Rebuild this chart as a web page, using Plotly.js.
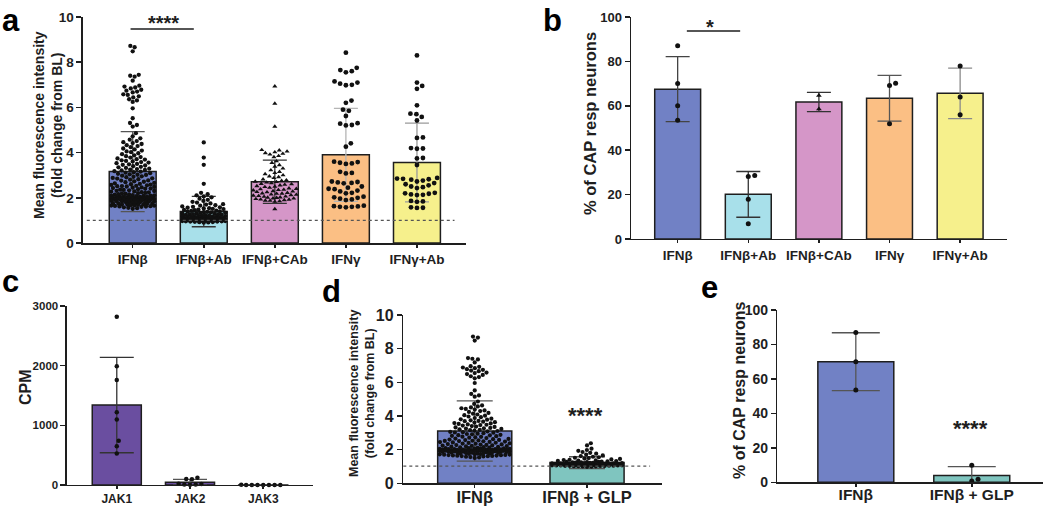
<!DOCTYPE html>
<html><head><meta charset="utf-8">
<script src="https://cdn.plot.ly/plotly-3.0.1.min.js"></script>
<style>html,body{margin:0;padding:0;background:#fff}#chart{width:1050px;height:507px}</style>
</head><body><div id="chart"></div>
<script>
// ================= DATA =================
// Panel a / b categories
const catsA = ['IFNβ', 'IFNβ+Ab', 'IFNβ+CAb', 'IFNγ', 'IFNγ+Ab'];
const meanA = [3.16, 1.39, 2.71, 3.90, 3.56];
const sdA   = [1.77, 0.67, 0.96, 2.06, 1.74];

const ptsIFNb = [8.72, 8.66, 8.48, 7.44, 7.40, 7.36, 7.18, 6.96, 6.92, 6.88, 6.84, 6.78, 6.74, 6.70, 6.66, 6.58, 6.55, 6.49, 6.44, 6.36, 6.31, 6.24, 5.96, 5.52, 5.31, 5.22, 5.15,
  4.86, 4.72, 4.63, 4.57, 4.51, 4.46, 4.42, 4.38, 4.33, 4.29, 4.24, 4.18, 4.14, 4.09, 4.05, 4.02,
  3.97, 3.93, 3.88, 3.84, 3.80, 3.78, 3.74, 3.71, 3.69, 3.66, 3.63, 3.61, 3.58, 3.56, 3.53, 3.50, 3.48, 3.46, 3.43, 3.40, 3.37, 3.35, 3.32,
  3.29, 3.27, 3.25, 3.23, 3.21, 3.18, 3.16, 3.13, 3.11, 3.09, 3.06, 3.04, 3.02, 3.01,
  2.98, 2.95, 2.93, 2.91, 2.88, 2.86, 2.85, 2.82, 2.80, 2.77, 2.76, 2.73, 2.71, 2.69, 2.66, 2.64, 2.62, 2.60, 2.58, 2.57, 2.55, 2.53, 2.52, 2.51, 2.50,
  2.48, 2.46, 2.45, 2.43, 2.41, 2.40, 2.38, 2.36, 2.35, 2.33, 2.31, 2.30, 2.28, 2.27, 2.25, 2.24, 2.22, 2.21, 2.19, 2.18, 2.16, 2.15, 2.14, 2.12, 2.11, 2.10, 2.09, 2.08, 2.07, 2.06, 2.05, 2.05, 2.04, 2.03, 2.03, 2.02, 2.01, 2.01, 2.00, 2.00,
  1.99, 1.99, 1.98, 1.98, 1.97, 1.97, 1.96, 1.96, 1.95, 1.95, 1.94, 1.94, 1.93, 1.93, 1.92, 1.92, 1.91, 1.90, 1.90, 1.89, 1.88, 1.88, 1.87, 1.86, 1.85, 1.85, 1.84, 1.83, 1.82, 1.81, 1.80, 1.79, 1.78, 1.77, 1.76, 1.75, 1.74, 1.73, 1.72, 1.71, 1.70, 1.69, 1.68, 1.67, 1.66, 1.65, 1.64, 1.63, 1.62, 1.61, 1.60, 1.58, 1.56, 1.54, 1.51];

const ptsIFNbAb = [4.45, 3.78, 3.46, 2.62, 2.22, 2.16, 2.11, 2.06, 2.02,
  1.96, 1.91, 1.86, 1.82, 1.79, 1.75, 1.72, 1.70, 1.67, 1.65, 1.62, 1.60, 1.58, 1.56, 1.54, 1.53, 1.51, 1.50,
  1.48, 1.46, 1.45, 1.43, 1.42, 1.40, 1.39, 1.38, 1.36, 1.35, 1.34, 1.33, 1.31, 1.30, 1.29, 1.28, 1.27, 1.26, 1.25, 1.24, 1.23, 1.22, 1.21, 1.20,
  1.19, 1.18, 1.17, 1.16, 1.16, 1.15, 1.14, 1.14, 1.13, 1.12, 1.12, 1.11, 1.11, 1.10, 1.10, 1.09, 1.09, 1.08, 1.08, 1.07, 1.07, 1.07, 1.06, 1.06, 1.06, 1.05, 1.05, 1.05, 1.04, 1.04, 1.04, 1.03, 1.03, 1.03, 1.02, 1.02, 1.02, 1.01, 1.01, 1.00,
  0.99, 0.99, 0.98, 0.98, 0.97, 0.97, 0.96, 0.96, 0.95, 0.95, 0.94, 0.93, 0.92, 0.91, 0.90];

const ptsIFNbCAb = [6.93, 6.17, 5.15, 4.12, 4.10, 4.05, 4.02, 3.98, 3.95, 3.92, 3.85, 3.80, 3.62, 3.55, 3.45, 3.38, 3.30, 3.22, 3.15, 3.10, 3.05, 3.00, 2.95, 2.92, 2.88,
  2.82, 2.78, 2.75, 2.72, 2.70, 2.68, 2.65, 2.62, 2.60, 2.58, 2.55, 2.52, 2.50, 2.48, 2.45, 2.42, 2.40, 2.38, 2.36, 2.35, 2.33, 2.30, 2.28, 2.26, 2.25, 2.22, 2.20, 2.19, 2.18, 2.15, 2.14, 2.12, 2.10, 2.08, 2.06, 2.05, 2.02, 2.01, 2.00, 1.98, 1.97, 1.95, 1.93, 1.92, 1.90, 1.88, 1.87, 1.85, 1.83, 1.50];

const ptsIFNg = [8.42, 7.75, 7.65, 7.60, 7.55, 7.15, 7.10, 7.05, 7.00, 6.98, 6.30, 6.20, 5.90, 5.85, 5.62, 5.30, 5.28, 5.22, 5.20, 4.41, 4.26,
  3.60, 3.58, 3.55, 3.52, 3.50, 3.15, 3.10, 3.08, 2.72, 2.70, 2.68, 2.66, 2.64, 2.50, 2.45, 2.40, 2.38, 2.32, 2.28, 2.22, 2.20,
  2.05, 2.02, 2.00, 1.96, 1.93, 1.90, 1.65, 1.63, 1.62, 1.60, 1.60, 1.58];

const ptsIFNgAb = [8.30, 7.10, 6.95, 6.82, 6.09, 5.72, 5.70, 5.58, 5.42, 4.67, 4.65, 4.20, 4.18, 4.17, 3.76, 3.74, 3.45,
  2.88, 2.85, 2.84, 2.82, 2.80, 2.76, 2.72, 2.65, 2.60, 2.55, 2.50, 2.47, 2.43, 2.22, 2.20, 2.18, 2.15, 2.13, 2.12,
  1.86, 1.84, 1.82, 1.58, 1.56, 1.55];

// Panel b
const meanB = [67.5, 20.1, 61.7, 63.4, 65.6];
const sdB   = [14.6, 10.3, 4.3, 10.3, 11.4];
const ptsB  = [[87.0, 70.0, 60.0, 53.5], [28.6, 28.2, 17.9, 6.9], [64.6, 58.6], [70.1, 69.1, 51.9], [77.9, 64.0, 56.0]];

// Panel c
const catsC = ['JAK1', 'JAK2', 'JAK3'];
const meanC = [1341, 45, 1.5];
const sdC   = [800, 48, 1];
const ptsC  = [[2820, 1990, 1760, 1220, 1100, 740, 650, 530], [120, 100, 95, 20, 15, 10, 8, 5], [3, 2, 2, 1, 1, 1, 0.5, 0]];

// Panel d
const catsD = ['IFNβ', 'IFNβ + GLP'];
const meanD = [3.11, 1.23];
const sdD   = [1.79, 0.35];
const ptsGLP = [2.38, 2.25, 2.06, 1.98, 1.93, 1.86, 1.81, 1.76, 1.71, 1.66, 1.62, 1.58, 1.55, 1.52, 1.50, 1.47, 1.45, 1.42, 1.40, 1.38, 1.36, 1.35, 1.33, 1.32, 1.30,
  1.29, 1.28, 1.27, 1.26, 1.25, 1.24, 1.23, 1.22, 1.21, 1.20, 1.20, 1.19, 1.18, 1.18, 1.17, 1.16, 1.16, 1.15, 1.15, 1.14, 1.14, 1.13, 1.13, 1.12, 1.12, 1.11, 1.11, 1.10, 1.10, 1.10, 1.09, 1.09, 1.08, 1.08, 1.08, 1.07, 1.07, 1.06, 1.06, 1.06, 1.05, 1.05, 1.04, 1.04, 1.03, 1.03, 1.02, 1.02, 1.01, 1.00, 0.99, 0.98];

// Panel e
const catsE = ['IFNβ', 'IFNβ + GLP'];
const meanE = [70.0, 4.0];
const sdE   = [16.8, 5.1];
const ptsE  = [[87.0, 70.0, 53.5], [9.9, 1.8, 0.8]];

// y tick labels
const ticksA = [0, 2, 4, 6, 8, 10];
const ticksPct = [0, 20, 40, 60, 80, 100];
const ticksC = [0, 1000, 2000, 3000];

// ================= STYLE =================
const FONT = 'Liberation Sans, Arial, Helvetica, sans-serif';
const W = 1050, H = 507;
const INK = '#1e1e1e';
const colA = ['#7181c5', '#a8e0ea', '#d596c8', '#fbbf84', '#f6f08c'];
const errColA = ['#555', '#333', '#333', '#b5b5b5', '#9a9a9a'];
const errColB = ['#444', '#333', '#333', '#555', '#8a8a8a'];
const colC = ['#6a4ea0', '#6a4ea0', '#6a4ea0'];
const colD = ['#7181c5', '#7fc5bf'];

const P = {
  a: {xd: [0.0790, 0.4438], yd: [0.5207, 0.9665], xr: [-0.70, 4.69], yr: [0, 10]},
  b: {xd: [0.6010, 0.9588], yd: [0.5286, 0.9665], xr: [-0.66, 4.66], yr: [0, 100]},
  c: {xd: [0.0638, 0.2981], yd: [0.0434, 0.3964], xr: [-0.68, 2.68], yr: [0, 3000]},
  d: {xd: [0.3841, 0.6302], yd: [0.0467, 0.3787], xr: [-0.636, 1.665], yr: [0, 10]},
  e: {xd: [0.7403, 0.9933], yd: [0.0487, 0.3886], xr: [-0.677, 1.614], yr: [0, 100]}
};
function pxX(p) { return (p.xd[1] - p.xd[0]) * W / (p.xr[1] - p.xr[0]); }
function pxY(p) { return (p.yd[1] - p.yd[0]) * H / (p.yr[1] - p.yr[0]); }

// beeswarm layout of points computed from their values
function swarm(vals, center, p, d, maxHalf) {
  const sx = pxX(p), sy = pxY(p);
  const idx = vals.map((v, i) => i).sort((a, b) => vals[a] - vals[b]);
  const placed = [];
  const xs = new Array(vals.length);
  for (const i of idx) {
    const y = vals[i] * sy;
    const near = placed.filter(q => Math.abs(q.y - y) < d);
    const cands = [0];
    near.forEach(q => { const dx = Math.sqrt(d * d - (q.y - y) ** 2); cands.push(q.x + dx, q.x - dx); });
    cands.sort((a, b) => Math.abs(a) - Math.abs(b));
    let chosen = null;
    for (const c of cands) {
      if (Math.abs(c) > maxHalf) continue;
      if (near.every(q => (q.x - c) ** 2 + (q.y - y) ** 2 >= d * d - 1e-6)) { chosen = c; break; }
    }
    if (chosen === null) {
      let best = 0, bestScore = -1;
      for (let k = 0; k <= 24; k++) {
        const c = -maxHalf + 2 * maxHalf * k / 24;
        const s = Math.min(...near.map(q => Math.hypot(q.x - c, q.y - y)));
        if (s > bestScore) { bestScore = s; best = c; }
      }
      chosen = best;
    }
    placed.push({x: chosen, y: y});
    xs[i] = center + chosen / sx;
  }
  return xs;
}

const traces = [];
function bars(ax, means, sds, cols, errCols, width, cap, lw) {
  means.forEach((m, i) => {
    traces.push({
      type: 'bar', x: [i], y: [m], width: width, xaxis: 'x' + ax, yaxis: 'y' + ax,
      marker: {color: cols[i], line: {color: INK, width: lw}},
      error_y: {type: 'data', array: [sds[i]], visible: true, color: errCols[i], thickness: 1.3, width: cap},
      hoverinfo: 'skip'
    });
  });
}
function dots(ax, p, vals, center, size, symbol, maxHalf, gap) {
  traces.push({
    type: 'scatter', mode: 'markers', xaxis: 'x' + ax, yaxis: 'y' + ax,
    x: swarm(vals, center, p, size + (gap || 0.4), maxHalf), y: vals,
    marker: {color: '#111', size: size, symbol: symbol || 'circle', line: {width: 0}},
    cliponaxis: false, hoverinfo: 'skip'
  });
}

// Panel a
bars('', meanA, sdA, colA, errColA, 0.66, 12, 1.5);
dots('', P.a, ptsIFNb, 0, 4.3, 'circle', 21.5, 0.2);
dots('', P.a, ptsIFNbAb, 1, 4.3, 'circle', 21.5, 0.2);
dots('', P.a, ptsIFNbCAb, 2, 4.5, 'triangle-up', 21.5, 0.3);
dots('', P.a, ptsIFNg, 3, 4.8, 'circle', 21.5, 1.2);
dots('', P.a, ptsIFNgAb, 4, 4.8, 'circle', 21.5, 1.2);
// Panel b
bars('2', meanB, sdB, colA, errColB, 0.65, 12, 1.5);
ptsB.forEach((v, i) => dots('2', P.b, v, i, 5, i === 2 ? 'triangle-up' : 'circle', 20, 1.5));
// Panel c
bars('3', meanC, sdC, colC, ['#333', '#555', '#555'], 0.67, 17, 1.5);
ptsC.forEach((v, i) => dots('3', P.c, v, i, 4.5, 'circle', 22, 1.2));
// Panel d
bars('4', meanD, sdD, colD, ['#555', '#555'], 0.66, 18, 1.5);
dots('4', P.d, ptsIFNb, 0, 4.2, 'circle', 35, 0.2);
dots('4', P.d, ptsGLP, 1, 4.2, 'circle', 35, 0.2);
// Panel e
bars('5', meanE, sdE, colD, ['#555', '#555'], 0.655, 24, 1.5);
ptsE.forEach((v, i) => dots('5', P.e, v, i, 5, 'circle', 20, 1.5));

// ================= LAYOUT =================
const bold = s => '<b>' + s + '</b>';
function xAxis(p, yname, labels, fs, stand) {
  return {domain: p.xd, range: p.xr, anchor: yname, tickmode: 'array', tickvals: labels.map((_, i) => i), ticktext: labels.map(bold),
    showline: true, linecolor: INK, linewidth: 1.5, ticks: 'outside', ticklen: 3, tickwidth: 1.5, tickcolor: INK,
    ticklabelstandoff: stand || 0,
    showgrid: false, zeroline: false, fixedrange: true,
    tickfont: {family: FONT, size: fs, color: INK}};
}
function yAxis(p, xname, tv, fs) {
  return {domain: p.yd, range: p.yr, anchor: xname, tickmode: 'array', tickvals: tv, ticktext: tv.map(v => bold(String(v))),
    showline: true, linecolor: INK, linewidth: 1.5, ticks: 'outside', ticklen: 5, tickwidth: 1.5, tickcolor: INK,
    showgrid: false, zeroline: false, fixedrange: true,
    tickfont: {family: FONT, size: fs, color: INK}};
}
const mfi = 'Mean fluorescence intensity<br>(fold change from BL)';
const cap = '% of CAP resp neurons';

function ytitle(t, xpx, ypx, size) {
  return {text: bold(t), xref: 'paper', yref: 'paper', x: xpx / W, y: 1 - ypx / H, xanchor: 'center', yanchor: 'middle',
    textangle: -90, showarrow: false, font: {family: FONT, size: size, color: INK}};
}
function letter(t, x, y, anchor) {
  return {text: bold(t), xref: 'paper', yref: 'paper', x: x, y: y, xanchor: 'left', yanchor: anchor || 'middle', showarrow: false,
    font: {family: FONT, size: 31, color: '#000'}};
}
function stars(t, ax, x, y, size) {
  return {text: bold(t), xref: 'x' + ax, yref: 'y' + ax, x: x, y: y, xanchor: 'center', yanchor: 'middle', showarrow: false,
    font: {family: FONT, size: size, color: INK}};
}

const layout = {
  width: W, height: H, margin: {l: 0, r: 0, t: 0, b: 0},
  paper_bgcolor: '#fff', plot_bgcolor: 'rgba(0,0,0,0)',
  showlegend: false, barmode: 'overlay', hovermode: false,
  xaxis: xAxis(P.a, 'y', catsA, 13.5, 0),
  yaxis: yAxis(P.a, 'x', ticksA, 13.5),
  xaxis2: xAxis(P.b, 'y2', catsA, 13.5, 0),
  yaxis2: yAxis(P.b, 'x2', ticksPct, 13),
  xaxis3: xAxis(P.c, 'y3', catsC, 12, -1),
  yaxis3: yAxis(P.c, 'x3', ticksC, 11.5),
  xaxis4: xAxis(P.d, 'y4', catsD, 16.5, -5),
  yaxis4: yAxis(P.d, 'x4', ticksA, 16),
  xaxis5: xAxis(P.e, 'y5', catsE, 15.5, -5),
  yaxis5: yAxis(P.e, 'x5', ticksPct, 14),
  shapes: [
    {type: 'line', xref: 'x', yref: 'y', x0: -0.03, x1: 0.86, y0: 9.47, y1: 9.47, line: {color: INK, width: 1.5}},
    {type: 'line', xref: 'x domain', yref: 'y', x0: 0.01, x1: 0.97, y0: 1, y1: 1, line: {color: '#555', width: 1.2, dash: 'dot'}},
    {type: 'line', xref: 'x2', yref: 'y2', x0: 0.13, x1: 0.885, y0: 93.7, y1: 93.7, line: {color: INK, width: 1.5}},
    {type: 'line', xref: 'x4 domain', yref: 'y4', x0: 0.0, x1: 0.955, y0: 1.02, y1: 1.02, line: {color: '#555', width: 1.2, dash: 'dot'}}
  ],
  annotations: [
    ytitle(mfi, 48, 125, 14), ytitle(cap, 590, 124, 16.5), ytitle('CPM', 25, 387, 16),
    ytitle(mfi, 362, 394, 12.5), ytitle(cap, 739, 390, 16),
    letter('a', 0.0, 0.999, 'top'), letter('b', 0.515, 0.999, 'top'), letter('c', 0.0, 0.4438), letter('d', 0.305, 0.4241), letter('e', 0.666, 0.4339),
    stars('****', '', 0.44, 9.72, 20),
    stars('*', '2', 0.46, 95.6, 20),
    stars('****', '4', 0.99, 4.0, 22),
    stars('****', '5', 0.99, 31.5, 22)
  ]
};

Plotly.newPlot('chart', traces, layout, {staticPlot: true, displayModeBar: false});
</script>
</body></html>
